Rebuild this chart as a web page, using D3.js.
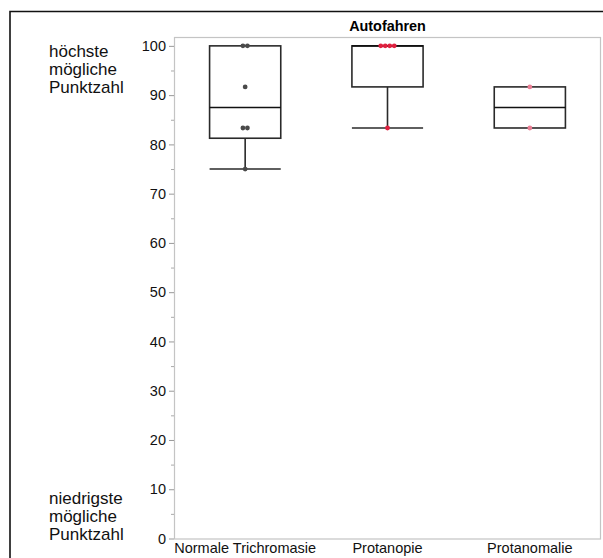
<!DOCTYPE html>
<html><head><meta charset="utf-8">
<script src="https://cdn.jsdelivr.net/npm/d3@7"></script>
<style>
html,body{margin:0;padding:0;background:#fff;}
svg{display:block;font-family:"Liberation Sans",Arial,Helvetica,sans-serif;}
</style></head>
<body><svg id="c" width="603" height="558"></svg>
<script>
const title = "Autofahren";
const categories = ["Normale Trichromasie", "Protanopie", "Protanomalie"];
const q1 = [81.25, 91.67, 83.33];
const median = [87.5, 100, 87.5];
const q3 = [100, 100, 91.67];
const whiskerLow = [75, 83.33, 83.33];
const whiskerHigh = [100, 100, 91.67];
const points = [
  [75, 83.33, 83.33, 91.67, 100, 100],
  [83.33, 100, 100, 100, 100],
  [83.33, 91.67]
];
const pointColors = ["#4a4a4a", "#e0203f", "#ea7f95"];
const yTicks = [0, 10, 20, 30, 40, 50, 60, 70, 80, 90, 100];
const yMinorTicks = [5, 15, 25, 35, 45, 55, 65, 75, 85, 95];
const yDomain = [0, 101.8];
const topLabel = ["höchste", "mögliche", "Punktzahl"];
const bottomLabel = ["niedrigste", "mögliche", "Punktzahl"];

const svg = d3.select("#c");
const plot = {left: 174, right: 601, top: 37, bottom: 538.5};

const x = d3.scaleBand().domain(categories).range([plot.left, plot.right]).padding(0);
const y = d3.scaleLinear().domain(yDomain).range([plot.bottom, plot.top]);

// outer frame (top + left)
svg.append("path")
  .attr("d", `M10,558 L10,11.5 L603,11.5`)
  .attr("fill", "none").attr("stroke", "#111").attr("stroke-width", 1.6);

// plot frame
svg.append("rect")
  .attr("x", plot.left + 0.5).attr("y", plot.top + 0.5)
  .attr("width", plot.right - plot.left - 1).attr("height", plot.bottom - plot.top)
  .attr("fill", "none").attr("stroke", "#c4c4c4").attr("stroke-width", 1.2);

// title
svg.append("text").attr("x", (plot.left + plot.right) / 2).attr("y", 31)
  .attr("text-anchor", "middle").attr("font-weight", "bold").attr("font-size", 14.4)
  .attr("fill", "#000").text(title);

// y axis
const yAxis = d3.axisLeft(y).tickValues(yTicks).tickSize(5).tickPadding(3).tickFormat(d3.format("d"));
const gy = svg.append("g").attr("transform", `translate(${plot.left},0)`).call(yAxis);
gy.select(".domain").remove();
gy.selectAll(".tick line").attr("stroke", "#999");
gy.selectAll(".tick text").attr("font-size", 14.5).attr("fill", "#111").attr("font-family", "Liberation Sans, Arial, sans-serif");
const yMinor = d3.axisLeft(y).tickValues(yMinorTicks).tickSize(3).tickFormat("");
const gy2 = svg.append("g").attr("transform", `translate(${plot.left},0)`).call(yMinor);
gy2.select(".domain").remove();
gy2.selectAll(".tick line").attr("stroke", "#aaa");

// x axis labels
const xAxis = d3.axisBottom(x).tickSize(0).tickPadding(4);
const gx = svg.append("g").attr("transform", `translate(0,${plot.bottom})`).call(xAxis);
gx.select(".domain").remove();
gx.selectAll(".tick text").attr("font-size", 14.5).attr("fill", "#111").attr("font-family", "Liberation Sans, Arial, sans-serif");

// side labels
function sideLabel(lines, baseline) {
  const t = svg.append("text").attr("x", 49).attr("y", baseline).attr("font-size", 17).attr("fill", "#111");
  lines.forEach((l, i) => t.append("tspan").attr("x", 49).attr("dy", i === 0 ? 0 : 18).text(l));
}
sideLabel(topLabel, 57);
sideLabel(bottomLabel, 504);

// boxes
const bw = x.bandwidth() / 2;
const stroke = "#2a2a2a";
categories.forEach((c, i) => {
  const cx = x(c) + x.bandwidth() / 2;
  const g = svg.append("g");
  if (whiskerLow[i] < q1[i]) {
    g.append("line").attr("x1", cx).attr("x2", cx).attr("y1", y(q1[i])).attr("y2", y(whiskerLow[i]))
      .attr("stroke", stroke).attr("stroke-width", 1.6);
    g.append("line").attr("x1", cx - bw / 2).attr("x2", cx + bw / 2).attr("y1", y(whiskerLow[i])).attr("y2", y(whiskerLow[i]))
      .attr("stroke", stroke).attr("stroke-width", 1.6);
  }
  if (whiskerHigh[i] > q3[i]) {
    g.append("line").attr("x1", cx).attr("x2", cx).attr("y1", y(q3[i])).attr("y2", y(whiskerHigh[i]))
      .attr("stroke", stroke).attr("stroke-width", 1.6);
    g.append("line").attr("x1", cx - bw / 2).attr("x2", cx + bw / 2).attr("y1", y(whiskerHigh[i])).attr("y2", y(whiskerHigh[i]))
      .attr("stroke", stroke).attr("stroke-width", 1.6);
  }
  g.append("rect").attr("x", cx - bw / 2).attr("y", y(q3[i])).attr("width", bw).attr("height", y(q1[i]) - y(q3[i]))
    .attr("fill", "none").attr("stroke", stroke).attr("stroke-width", 1.6);
  g.append("line").attr("x1", cx - bw / 2).attr("x2", cx + bw / 2).attr("y1", y(median[i])).attr("y2", y(median[i]))
    .attr("stroke", "#111").attr("stroke-width", 1.6);

  const counts = d3.rollup(points[i], v => v.length, d => d);
  const seen = new Map();
  points[i].forEach(v => {
    const n = counts.get(v);
    const k = seen.get(v) || 0; seen.set(v, k + 1);
    const off = (k - (n - 1) / 2) * 4.5;
    g.append("circle").attr("cx", cx + off).attr("cy", y(v)).attr("r", 2.4)
      .attr("fill", pointColors[i]);
  });
});
</script></body></html>
